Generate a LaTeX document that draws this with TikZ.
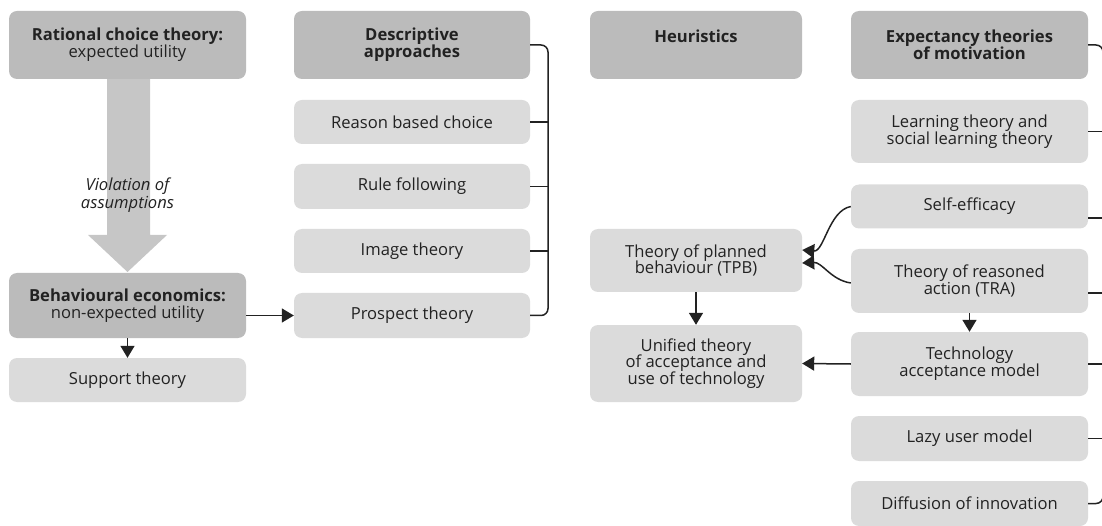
\documentclass[tikz,border=0pt]{standalone}
\usepackage{fontspec}
\setmainfont{Open Sans}
\usetikzlibrary{arrows.meta}
\definecolor{boxdark}{HTML}{BBBBBB}
\definecolor{boxlight}{HTML}{DBDBDB}
\definecolor{bigarrow}{HTML}{C6C6C6}
\definecolor{ink}{HTML}{222222}
\begin{document}
\begin{tikzpicture}[x=1pt,y=-1pt,
  box/.style={rounded corners=8pt,fill=boxlight,text=ink,align=center,inner sep=0pt,font=\fontsize{16.6}{16.8}\selectfont},
  head/.style={box,fill=boxdark,minimum height=68pt},
  link/.style={draw=ink,line width=1.5pt,-{Triangle[length=12pt,width=14pt]}},
  brace/.style={draw=ink,line width=1.5pt,rounded corners=7pt}]
\useasboundingbox (0,0) rectangle (1102,526);
\fill[bigarrow] (107,79) -- (107,235) -- (88,235) -- (127.5,272) -- (167,235) -- (150,235) -- (150,79) -- cycle;
\node[font=\itshape\fontsize{16.6}{17.5}\selectfont,text=ink,align=center] (viol) at (127.5,195) {Violation of\\assumptions};
\node[head,minimum width=237pt] (rct) at (127.5,45) {\textbf{Rational choice theory:}\\expected utility};
\node[head,minimum width=237pt,minimum height=65pt] (be) at (127.5,305.5) {\textbf{Behavioural economics:}\\non-expected utility};
\node[box,minimum width=237pt,minimum height=44pt] (st) at (127.5,380) {Support theory};
\node[head,minimum width=236pt] (da) at (412,45) {\textbf{Descriptive}\\\textbf{approaches}};
\node[box,minimum width=236pt,minimum height=44pt] (rbc) at (412,122) {Reason based choice};
\node[box,minimum width=236pt,minimum height=45pt] (rf) at (412,186.5) {Rule following};
\node[box,minimum width=236pt,minimum height=44pt] (it) at (412,251) {Image theory};
\node[box,minimum width=236pt,minimum height=45pt] (pt) at (412,315.5) {Prospect theory};
\node[head,minimum width=212pt] (heu) at (696,45) {\textbf{Heuristics}\\\mbox{}};
\node[box,minimum width=212pt,minimum height=63pt] (tpb) at (696,260.5) {Theory of planned\\behaviour (TPB)};
\node[box,minimum width=212pt,minimum height=77pt] (ut) at (696,363.5) {Unified theory\\of acceptance and\\use of technology};
\node[head,minimum width=237pt] (etm) at (969.5,45) {\textbf{Expectancy theories}\\\textbf{of motivation}};
\node[box,minimum width=237pt,minimum height=63pt] (lt) at (969.5,131.5) {Learning theory and\\social learning theory};
\node[box,minimum width=237pt,minimum height=44pt] (se) at (969.5,206.5) {Self-efficacy};
\node[box,minimum width=237pt,minimum height=64pt] (tra) at (969.5,281) {Theory of reasoned\\action (TRA)};
\node[box,minimum width=237pt,minimum height=64pt] (tam) at (969.5,364) {Technology\\acceptance model};
\node[box,minimum width=237pt,minimum height=45pt] (lum) at (969.5,438.5) {Lazy user model};
\node[box,minimum width=237pt,minimum height=45pt] (doi) at (969.5,503.5) {Diffusion of innovation};
\draw[link] (be.east |- pt.west) -- (pt.west);
\draw[link] (be.south) -- (st.north);
\draw[link] (tpb.south) -- (ut.north);
\draw[link] (tam.west) -- (ut.east);
\draw[link] (tra.south) -- (tam.north);
\draw[link] (se.west) .. controls +(-22,4) and +(22,2) .. ([yshift=10.5pt]tpb.east);
\draw[link] ([yshift=-2pt]tra.west) .. controls +(-20,-3) and +(20,-1) .. ([yshift=-2.5pt]tpb.east);
\coordinate (dabar) at (548,0);
\draw[brace] (da.east) -- (da.east -| dabar) -- (pt.east -| dabar) -- (pt.east);
\draw[brace] (rbc.east) -- (rbc.east -| dabar);
\draw[brace] (rf.east) -- (rf.east -| dabar);
\draw[brace] (it.east) -- (it.east -| dabar);
\coordinate (etbar) at (1103,0);
\draw[brace] (etm.east) -- (etm.east -| etbar) -- (doi.east -| etbar) -- (doi.east);
\draw[brace] (lt.east) -- (lt.east -| etbar);
\draw[brace] ([yshift=-11.5pt]se.east) -- ([yshift=-11.5pt]se.east -| etbar);
\draw[brace] ([yshift=-12pt]tra.east) -- ([yshift=-12pt]tra.east -| etbar);
\draw[brace] (tam.east) -- (tam.east -| etbar);
\draw[brace] (lum.east) -- (lum.east -| etbar);
\end{tikzpicture}
\end{document}
